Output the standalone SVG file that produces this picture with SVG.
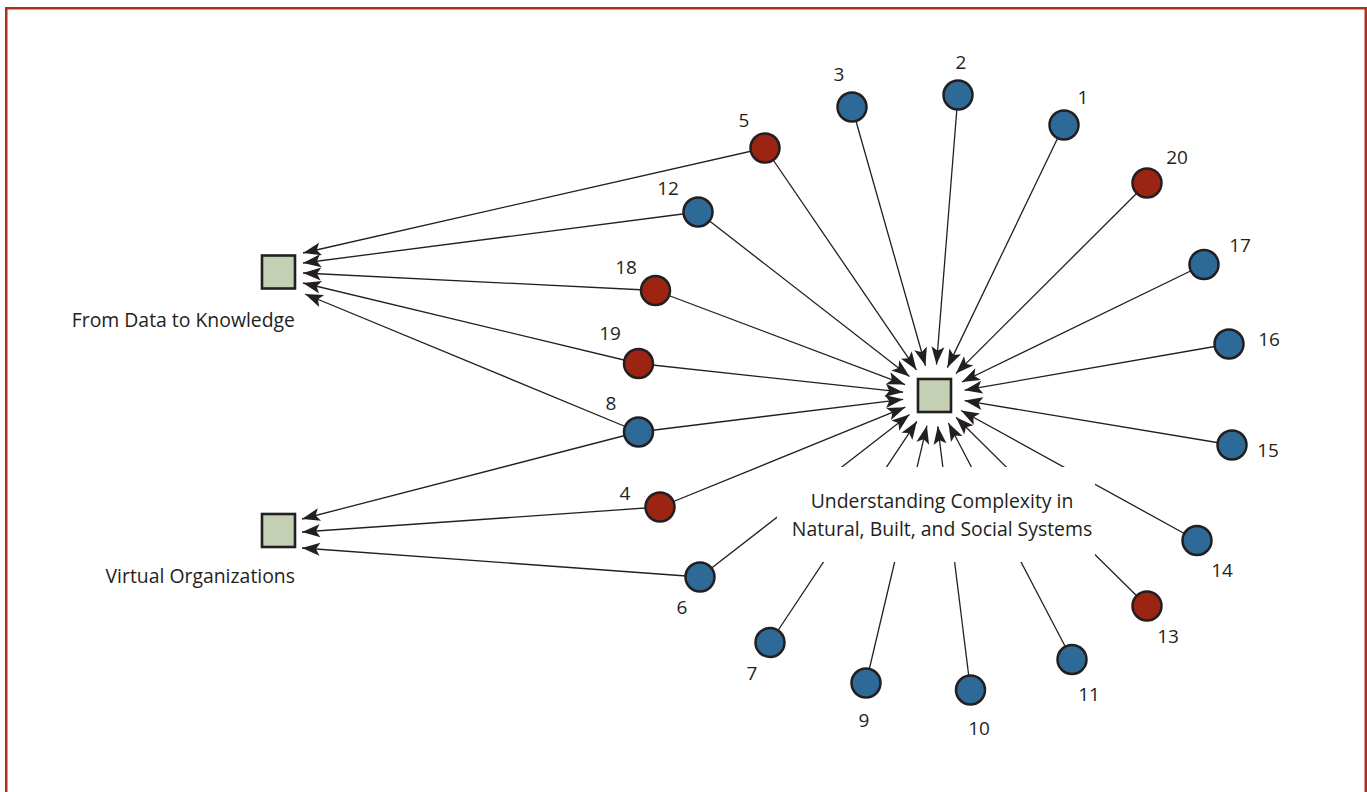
<svg xmlns="http://www.w3.org/2000/svg" width="1367" height="792" viewBox="0 0 1367 792">
<style>
.frame{fill:none;stroke:#b0301f;stroke-width:2.5}
.ln{fill:none;stroke:#231f20;stroke-width:1.3;marker-end:url(#ah)}
.sq{fill:#c3d0b4;stroke:#231f20;stroke-width:2.6}
.blue{fill:#2e6a97;stroke:#231f20;stroke-width:2.5}
.red{fill:#9b2412;stroke:#231f20;stroke-width:2.5}
text{font-family:"Open Sans","Noto Sans","Liberation Sans",sans-serif;fill:#231f20}
.num{font-size:19px;text-anchor:middle}
.lbl{font-size:19.4px}
</style>
<defs>
<marker id="ah" markerUnits="userSpaceOnUse" markerWidth="22" markerHeight="16" viewBox="-19 -8 21 16" refX="0" refY="0" orient="auto">
<path d="M0,0 L-18,-6.5 L-14,0 L-18,6.5 z" fill="#231f20"/>
</marker>
<mask id="gap" maskUnits="userSpaceOnUse" x="0" y="0" width="1367" height="792">
<rect x="0" y="0" width="1367" height="792" fill="#fff"/>
<rect x="777" y="467" width="318" height="95" fill="#000"/>
</mask>
</defs>
<rect class="frame" x="6.25" y="8.25" width="1359.5" height="800"/>
<g id="connectors" mask="url(#gap)">
<line class="ln" x1="1064" y1="125" x2="947.4" y2="367.6"/>
<line class="ln" x1="958" y1="95" x2="936.5" y2="364.6"/>
<line class="ln" x1="852" y1="107" x2="925.5" y2="365.7"/>
<line class="ln" x1="765" y1="148" x2="916.5" y2="369.9"/>
<line class="ln" x1="698" y1="212" x2="909.5" y2="376.5"/>
<line class="ln" x1="655.5" y1="290.5" x2="905" y2="384.6"/>
<line class="ln" x1="638.5" y1="363.5" x2="903.2" y2="392.2"/>
<line class="ln" x1="638.5" y1="432" x2="903.2" y2="399.3"/>
<line class="ln" x1="660" y1="507" x2="905.3" y2="407.2"/>
<line class="ln" x1="700" y1="577" x2="909.5" y2="414.5"/>
<line class="ln" x1="770" y1="642.5" x2="916.9" y2="421.3"/>
<line class="ln" x1="866" y1="683" x2="926.9" y2="425.7"/>
<line class="ln" x1="970.5" y1="690" x2="937.8" y2="426.3"/>
<line class="ln" x1="1072" y1="659.5" x2="948.4" y2="423"/>
<line class="ln" x1="1147" y1="606" x2="956" y2="417.3"/>
<line class="ln" x1="1197" y1="540.5" x2="961.1" y2="410.5"/>
<line class="ln" x1="1232" y1="445" x2="964.6" y2="400.6"/>
<line class="ln" x1="1229" y1="344" x2="964.5" y2="390.2"/>
<line class="ln" x1="1204" y1="264.5" x2="961.9" y2="382"/>
<line class="ln" x1="1147" y1="183" x2="955.9" y2="373.6"/>
<line class="ln" x1="765" y1="148" x2="303" y2="253"/>
<line class="ln" x1="698" y1="212" x2="303" y2="263"/>
<line class="ln" x1="655.5" y1="290.5" x2="303" y2="273"/>
<line class="ln" x1="638.5" y1="363.5" x2="303" y2="283"/>
<line class="ln" x1="638.5" y1="432" x2="305" y2="294"/>
<line class="ln" x1="638.5" y1="432" x2="302" y2="519"/>
<line class="ln" x1="660" y1="507" x2="302" y2="532"/>
<line class="ln" x1="700" y1="577" x2="302" y2="548"/>
</g>
<g id="hub">
<rect class="sq" x="918" y="379" width="33" height="33"/>
<text class="lbl" x="942" y="508" text-anchor="middle">Understanding Complexity in</text>
<text class="lbl" x="942" y="536" text-anchor="middle">Natural, Built, and Social Systems</text>
</g>
<g id="data-knowledge">
<rect class="sq" x="262" y="255.5" width="33" height="33"/>
<text class="lbl" x="295" y="327" text-anchor="end">From Data to Knowledge</text>
</g>
<g id="virtual-org">
<rect class="sq" x="262" y="514" width="33" height="33"/>
<text class="lbl" x="295" y="583" text-anchor="end">Virtual Organizations</text>
</g>
<g id="n1"><circle class="blue" cx="1064" cy="125" r="14.5"/><text class="num" x="1083" y="104">1</text></g>
<g id="n2"><circle class="blue" cx="958" cy="95" r="14.5"/><text class="num" x="961" y="69">2</text></g>
<g id="n3"><circle class="blue" cx="852" cy="107" r="14.5"/><text class="num" x="839" y="81">3</text></g>
<g id="n4"><circle class="red" cx="660" cy="507" r="14.5"/><text class="num" x="625" y="500">4</text></g>
<g id="n5"><circle class="red" cx="765" cy="148" r="14.5"/><text class="num" x="744" y="127">5</text></g>
<g id="n6"><circle class="blue" cx="700" cy="577" r="14.5"/><text class="num" x="682" y="614">6</text></g>
<g id="n7"><circle class="blue" cx="770" cy="642.5" r="14.5"/><text class="num" x="752" y="680">7</text></g>
<g id="n8"><circle class="blue" cx="638.5" cy="432" r="14.5"/><text class="num" x="611" y="410">8</text></g>
<g id="n9"><circle class="blue" cx="866" cy="683" r="14.5"/><text class="num" x="864" y="727">9</text></g>
<g id="n10"><circle class="blue" cx="970.5" cy="690" r="14.5"/><text class="num" x="979" y="735">10</text></g>
<g id="n11"><circle class="blue" cx="1072" cy="659.5" r="14.5"/><text class="num" x="1089" y="701">11</text></g>
<g id="n12"><circle class="blue" cx="698" cy="212" r="14.5"/><text class="num" x="668" y="195">12</text></g>
<g id="n13"><circle class="red" cx="1147" cy="606" r="14.5"/><text class="num" x="1168" y="643">13</text></g>
<g id="n14"><circle class="blue" cx="1197" cy="540.5" r="14.5"/><text class="num" x="1222" y="577">14</text></g>
<g id="n15"><circle class="blue" cx="1232" cy="445" r="14.5"/><text class="num" x="1268" y="457">15</text></g>
<g id="n16"><circle class="blue" cx="1229" cy="344" r="14.5"/><text class="num" x="1269" y="346">16</text></g>
<g id="n17"><circle class="blue" cx="1204" cy="264.5" r="14.5"/><text class="num" x="1240" y="252">17</text></g>
<g id="n18"><circle class="red" cx="655.5" cy="290.5" r="14.5"/><text class="num" x="626" y="274">18</text></g>
<g id="n19"><circle class="red" cx="638.5" cy="363.5" r="14.5"/><text class="num" x="610" y="340">19</text></g>
<g id="n20"><circle class="red" cx="1147" cy="183" r="14.5"/><text class="num" x="1177" y="164">20</text></g>
</svg>
